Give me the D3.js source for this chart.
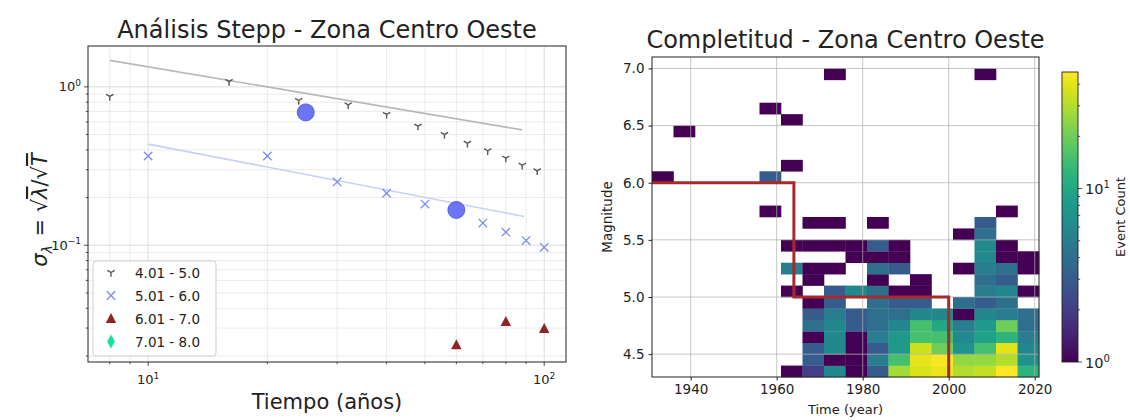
<!DOCTYPE html>
<html><head><meta charset="utf-8">
<script src="https://cdn.jsdelivr.net/npm/d3@7"></script>
<style>
html,body{margin:0;padding:0;background:#fff;}
text{font-family:"DejaVu Sans",sans-serif;fill:#222;}
</style></head>
<body><svg id="c" width="1130" height="420"></svg>
<script>
// ---------------- LEFT: Stepp analysis data ----------------
const grayT = [8,16,24,32,40,48,56,64,72,80,88,96];
const grayS = [0.87,1.08,0.82,0.77,0.67,0.565,0.50,0.44,0.395,0.355,0.32,0.295];
const blueT = [10,20,30,40,50,70,80,90,100];
const blueS = [0.366,0.366,0.251,0.213,0.182,0.138,0.121,0.107,0.097];
const redT = [60,80,100];
const redS = [0.0235,0.033,0.0298];
const grayFitT = [8,88];
const grayFitS = [1.47,0.535];
const blueFitT = [10,89];
const blueFitS = [0.435,0.152];
const complT = [25,60];
const complS = [0.69,0.167];
const legendLabels = ["4.01 - 5.0","5.01 - 6.0","6.01 - 7.0","7.01 - 8.0"];
const xTickExp = [1,2];
const yTickExp = [0,-1];

// ---------------- RIGHT: completeness heatmap data ----------------
const timeBins = [1931,1936,1941,1946,1951,1956,1961,1966,1971,1976,1981,1986,1991,1996,2001,2006,2011,2016,2021];
const magBins = [4.3,4.4,4.5,4.6,4.7,4.8,4.9,5.0,5.1,5.2,5.3,5.4,5.5,5.6,5.7,5.8,5.9,6.0,6.1,6.2,6.3,6.4,6.5,6.6,6.7,6.8,6.9,7.0,7.1];
// counts[row][col], row = magnitude bin starting at magBins[row], col = time bin
const counts = [
 [0,0,0,0,0,0,1,2,6,1,3,28,38,42,30,33,47,12],
 [0,0,0,0,0,0,0,3,1,1,5,15,40,45,25,25,30,7],
 [0,0,0,0,0,0,0,3,6,1,3,8,35,20,7,15,40,6],
 [0,0,0,0,0,0,0,1,6,1,5,8,15,15,6,9,12,5],
 [0,0,0,0,0,0,0,4,6,3,4,6,15,10,5,8,20,4],
 [0,0,0,0,0,0,0,3,5,3,4,4,6,6,1,6,5,4],
 [0,0,0,0,0,0,0,1,3,0,4,3,3,0,4,3,4,0],
 [0,0,0,0,0,0,1,0,3,6,4,1,1,0,0,5,6,1],
 [0,0,0,0,0,0,0,1,0,0,1,0,1,0,0,4,3,0],
 [0,0,0,0,0,0,5,1,1,0,4,3,0,0,1,5,4,1],
 [0,0,0,0,0,0,0,0,0,1,1,1,0,0,0,6,1,1],
 [0,0,0,0,0,0,1,1,1,1,3,1,0,0,0,6,1,0],
 [0,0,0,0,0,0,0,0,0,0,0,0,0,0,1,4,0,0],
 [0,0,0,0,0,0,0,1,1,0,1,0,0,0,0,3,0,0],
 [0,0,0,0,0,1,0,0,0,0,0,0,0,0,0,0,1,0],
 [0,0,0,0,0,0,0,0,0,0,0,0,0,0,0,0,0,0],
 [0,0,0,0,0,0,0,0,0,0,0,0,0,0,0,0,0,0],
 [1,0,0,0,0,3,0,0,0,0,0,0,0,0,0,0,0,0],
 [0,0,0,0,0,0,1,0,0,0,0,0,0,0,0,0,0,0],
 [0,0,0,0,0,0,0,0,0,0,0,0,0,0,0,0,0,0],
 [0,0,0,0,0,0,0,0,0,0,0,0,0,0,0,0,0,0],
 [0,1,0,0,0,0,0,0,0,0,0,0,0,0,0,0,0,0],
 [0,0,0,0,0,0,1,0,0,0,0,0,0,0,0,0,0,0],
 [0,0,0,0,0,1,0,0,0,0,0,0,0,0,0,0,0,0],
 [0,0,0,0,0,0,0,0,0,0,0,0,0,0,0,0,0,0],
 [0,0,0,0,0,0,0,0,0,0,0,0,0,0,0,0,0,0],
 [0,0,0,0,0,0,0,0,1,0,0,0,0,0,0,1,0,0],
 [0,0,0,0,0,0,0,0,0,0,0,0,0,0,0,0,0,0]
];
const stepYears = [1931,1964,1964,2000,2000];
const stepMags = [6.0,6.0,5.0,5.0,4.3];
const yearTicks = [1940,1960,1980,2000,2020];
const magTicks = [4.5,5.0,5.5,6.0,6.5,7.0];
const countMax = 47;

const svg = d3.select("#c");

// ================= LEFT CHART =================
const L = {l:88, r:566, t:46, b:362};
const xL = d3.scaleLog().domain([7.05,113.5]).range([L.l,L.r]);
const yL = d3.scaleLog().domain([0.01832,1.811]).range([L.b,L.t]);
const gL = svg.append("g");

const xMinor = [], yMinor = [];
[1,10,100].forEach(b=>{for(let k=1;k<10;k++){const v=b*k; if(v>=7.05&&v<=113.5) xMinor.push(v);}});
[0.01,0.1,1].forEach(b=>{for(let k=1;k<10;k++){const v=b*k; if(v>=0.01832&&v<=1.811) yMinor.push(v);}});
const isMajor = d => [0.01,0.1,1,10,100].some(m=>Math.abs(d-m)<1e-9);
gL.append("g").selectAll("line").data(xMinor).join("line")
  .attr("x1",d=>xL(d)).attr("x2",d=>xL(d)).attr("y1",L.t).attr("y2",L.b)
  .attr("stroke",d=>isMajor(d)?"#d4d4d4":"#e6e6e6").attr("stroke-width",0.8);
gL.append("g").selectAll("line").data(yMinor).join("line")
  .attr("y1",d=>yL(d)).attr("y2",d=>yL(d)).attr("x1",L.l).attr("x2",L.r)
  .attr("stroke",d=>isMajor(d)?"#d4d4d4":"#e6e6e6").attr("stroke-width",0.8);

const lineL = d3.line().x(d=>xL(d[0])).y(d=>yL(d[1]));
gL.append("path").datum(grayFitT.map((t,i)=>[t,grayFitS[i]])).attr("d",lineL)
  .attr("fill","none").attr("stroke","#b8b8b8").attr("stroke-width",1.6);
gL.append("path").datum(blueFitT.map((t,i)=>[t,blueFitS[i]])).attr("d",lineL)
  .attr("fill","none").attr("stroke","#c9d0f5").attr("stroke-width",1.6);

function triDown(g,x,y,s,col){
  const p = g.append("g").attr("transform",`translate(${x},${y})`).attr("stroke",col).attr("stroke-width",1.4);
  p.append("line").attr("x1",0).attr("y1",0).attr("x2",0).attr("y2",s);
  p.append("line").attr("x1",0).attr("y1",0).attr("x2",-s*0.87).attr("y2",-s*0.5);
  p.append("line").attr("x1",0).attr("y1",0).attr("x2",s*0.87).attr("y2",-s*0.5);
}
function xMark(g,x,y,s,col){
  const p = g.append("g").attr("transform",`translate(${x},${y})`).attr("stroke",col).attr("stroke-width",1.3);
  p.append("line").attr("x1",-s).attr("y1",-s).attr("x2",s).attr("y2",s);
  p.append("line").attr("x1",-s).attr("y1",s).attr("x2",s).attr("y2",-s);
}
function triUp(g,x,y,s,col){
  g.append("path").attr("d",`M${x},${y-s}L${x+s*0.95},${y+s*0.8}L${x-s*0.95},${y+s*0.8}Z`).attr("fill",col);
}
function thinDiamond(g,x,y,s,col){
  g.append("path").attr("d",`M${x},${y-s}L${x+s*0.55},${y}L${x},${y+s}L${x-s*0.55},${y}Z`).attr("fill",col);
}
const grayCol="#555555", blueCol="#7d8ded", redCol="#8e2424", greenCol="#17e39c";
grayT.forEach((t,i)=>triDown(gL,xL(t),yL(grayS[i]),4.2,grayCol));
blueT.forEach((t,i)=>xMark(gL,xL(t),yL(blueS[i]),4.2,blueCol));
redT.forEach((t,i)=>triUp(gL,xL(t),yL(redS[i]),5.5,redCol));
gL.append("g").selectAll("circle").data(complT).join("circle")
  .attr("cx",d=>xL(d)).attr("cy",(d,i)=>yL(complS[i])).attr("r",8.5)
  .attr("fill","#5a62f2").attr("fill-opacity",0.88).attr("stroke","#4a52e0").attr("stroke-width",0.8);

gL.append("rect").attr("x",L.l).attr("y",L.t).attr("width",L.r-L.l).attr("height",L.b-L.t)
  .attr("fill","none").attr("stroke","#222").attr("stroke-width",1);

gL.append("g").selectAll("line").data(xMinor).join("line")
  .attr("x1",d=>xL(d)).attr("x2",d=>xL(d)).attr("y1",L.b).attr("y2",d=>L.b+(isMajor(d)?4:2.2)).attr("stroke","#222").attr("stroke-width",0.8);
gL.append("g").selectAll("line").data(yMinor).join("line")
  .attr("y1",d=>yL(d)).attr("y2",d=>yL(d)).attr("x1",L.l).attr("x2",d=>L.l-(isMajor(d)?4:2.2)).attr("stroke","#222").attr("stroke-width",0.8);
xTickExp.forEach(e=>{
  const t = gL.append("text").attr("x",xL(Math.pow(10,e))).attr("y",L.b+22).attr("text-anchor","middle").attr("font-size",13);
  t.append("tspan").text("10");
  t.append("tspan").attr("dy",-5.5).attr("font-size",9).text(String(e));
});
yTickExp.forEach(e=>{
  const t = gL.append("text").attr("x",L.l-7).attr("y",yL(Math.pow(10,e))+4.5).attr("text-anchor","end").attr("font-size",13);
  t.append("tspan").text("10");
  t.append("tspan").attr("dy",-5.5).attr("font-size",9).text(e<0?"\u2212"+Math.abs(e):String(e));
});

const lg = gL.append("g");
lg.append("rect").attr("x",93).attr("y",261).attr("width",123).attr("height",95).attr("rx",3)
  .attr("fill","#fff").attr("fill-opacity",0.85).attr("stroke","#d0d0d0").attr("stroke-width",1);
const legY = [272.5,295.5,318.5,341.5];
triDown(lg,111,legY[0],4.2,grayCol);
xMark(lg,111,legY[1],4.2,blueCol);
triUp(lg,111,legY[2],5.5,redCol);
thinDiamond(lg,111,legY[3],7,greenCol);
lg.selectAll("text.lab").data(legendLabels).join("text").attr("class","lab")
  .attr("x",135).attr("y",(d,i)=>legY[i]+5).attr("font-size",13.5).text(d=>d);

gL.append("text").attr("x",(L.l+L.r)/2).attr("y",38).attr("text-anchor","middle").attr("font-size",24).text("Análisis Stepp - Zona Centro Oeste");
gL.append("text").attr("x",(L.l+L.r)/2).attr("y",409).attr("text-anchor","middle").attr("font-size",21).text("Tiempo (años)");
const yl = gL.append("text").attr("transform",`translate(47,${(L.t+L.b)/2+6}) rotate(-90)`).attr("text-anchor","middle").attr("font-size",21);
yl.append("tspan").attr("font-style","italic").text("σ");
yl.append("tspan").attr("font-style","italic").attr("font-size",14).attr("dy",5).text("λ");
yl.append("tspan").attr("dy",-5).attr("dx",2).text(" = √");
yl.append("tspan").attr("font-style","italic").style("text-decoration","overline").text("λ");
yl.append("tspan").text("/√");
yl.append("tspan").attr("font-style","italic").style("text-decoration","overline").text("T");

// ================= RIGHT CHART =================
const R = {l:652, r:1039, t:57, b:377};
const xR = d3.scaleLinear().domain([timeBins[0],timeBins[timeBins.length-1]]).range([R.l,R.r]);
const yR = d3.scaleLinear().domain([magBins[0],magBins[magBins.length-1]]).range([R.b,R.t]);
const color = d3.scaleSequentialLog(d3.interpolateViridis).domain([1,countMax]);
const gR = svg.append("g");

const cells = [];
counts.forEach((row,ri)=>row.forEach((c,ci)=>{ if(c>0) cells.push({ri,ci,c}); }));
gR.append("g").selectAll("rect").data(cells).join("rect")
  .attr("x",d=>xR(timeBins[d.ci])).attr("width",d=>xR(timeBins[d.ci+1])-xR(timeBins[d.ci])+0.3)
  .attr("y",d=>yR(magBins[d.ri+1])).attr("height",d=>yR(magBins[d.ri])-yR(magBins[d.ri+1])+0.3)
  .attr("fill",d=>color(d.c));

gR.append("g").selectAll("line").data(yearTicks).join("line")
  .attr("x1",d=>xR(d)).attr("x2",d=>xR(d)).attr("y1",R.t).attr("y2",R.b).attr("stroke","#b0b0b0").attr("stroke-opacity",0.8).attr("stroke-width",0.9);
gR.append("g").selectAll("line").data(magTicks).join("line")
  .attr("y1",d=>yR(d)).attr("y2",d=>yR(d)).attr("x1",R.l).attr("x2",R.r).attr("stroke","#b0b0b0").attr("stroke-opacity",0.8).attr("stroke-width",0.9);

gR.append("path").datum(stepYears.map((t,i)=>[t,stepMags[i]]))
  .attr("d",d3.line().x(d=>xR(d[0])).y(d=>yR(d[1])))
  .attr("fill","none").attr("stroke","#a52a2a").attr("stroke-width",3);

gR.append("rect").attr("x",R.l).attr("y",R.t).attr("width",R.r-R.l).attr("height",R.b-R.t)
  .attr("fill","none").attr("stroke","#222").attr("stroke-width",1);

const axB = gR.append("g").attr("transform",`translate(0,${R.b})`)
  .call(d3.axisBottom(xR).tickValues(yearTicks).tickFormat(d3.format("d")).tickSize(3.5).tickPadding(4));
const axL = gR.append("g").attr("transform",`translate(${R.l},0)`)
  .call(d3.axisLeft(yR).tickValues(magTicks).tickFormat(d3.format(".1f")).tickSize(3.5).tickPadding(4));
[axB,axL].forEach(a=>{a.select(".domain").remove(); a.selectAll("text").attr("font-size",13.5).attr("fill","#222").style("font-family","DejaVu Sans"); a.selectAll("line").attr("stroke","#222");});

gR.append("text").attr("x",(R.l+R.r)/2).attr("y",48).attr("text-anchor","middle").attr("font-size",24).text("Completitud - Zona Centro Oeste");
gR.append("text").attr("x",(R.l+R.r)/2).attr("y",414).attr("text-anchor","middle").attr("font-size",13).text("Time (year)");
gR.append("text").attr("transform",`translate(612,${(R.t+R.b)/2}) rotate(-90)`).attr("text-anchor","middle").attr("font-size",13.5).text("Magnitude");

// colorbar
const CB = {x:1062, w:16, t:72, b:362};
const cbScale = d3.scaleLog().domain([1,countMax]).range([CB.b,CB.t]);
const defs = svg.append("defs");
const grad = defs.append("linearGradient").attr("id","vir").attr("x1",0).attr("y1",1).attr("x2",0).attr("y2",0);
d3.range(0,1.0001,0.05).forEach(s=>grad.append("stop").attr("offset",s).attr("stop-color",d3.interpolateViridis(s)));
const gC = svg.append("g");
gC.append("rect").attr("x",CB.x).attr("y",CB.t).attr("width",CB.w).attr("height",CB.b-CB.t).attr("fill","url(#vir)").attr("stroke","#222").attr("stroke-width",0.9);
const cbMinor = [2,3,4,5,6,7,8,9,20,30,40];
gC.selectAll("line.mn").data(cbMinor).join("line").attr("class","mn")
  .attr("x1",CB.x+CB.w).attr("x2",CB.x+CB.w+2.2).attr("y1",d=>cbScale(d)).attr("y2",d=>cbScale(d)).attr("stroke","#222").attr("stroke-width",0.8);
[0,1].forEach(e=>{
  const v = Math.pow(10,e);
  gC.append("line").attr("x1",CB.x+CB.w).attr("x2",CB.x+CB.w+4).attr("y1",cbScale(v)).attr("y2",cbScale(v)).attr("stroke","#222").attr("stroke-width",0.8);
  const t = gC.append("text").attr("x",CB.x+CB.w+7).attr("y",cbScale(v)+5.5).attr("font-size",14.5);
  t.append("tspan").text("10");
  t.append("tspan").attr("dy",-6).attr("font-size",10).text(String(e));
});
gC.append("text").attr("transform",`translate(1125,${(CB.t+CB.b)/2}) rotate(-90)`).attr("text-anchor","middle").attr("font-size",13).text("Event Count");
</script></body></html>
